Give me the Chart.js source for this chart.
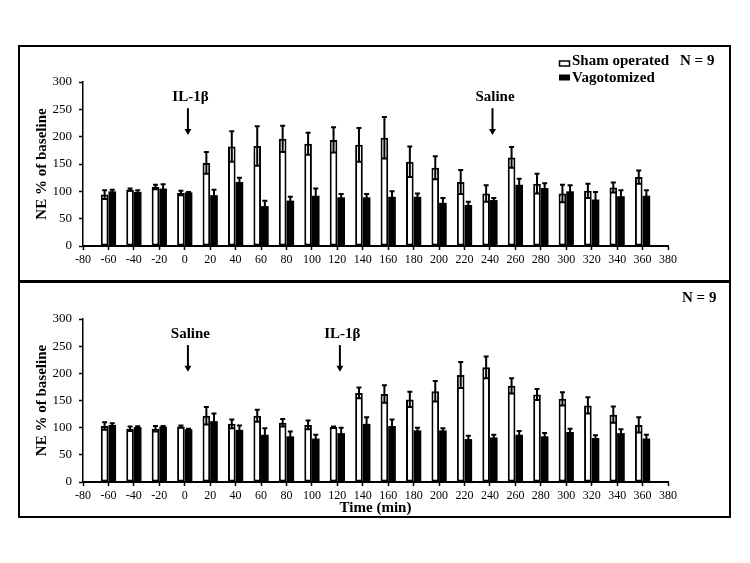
<!DOCTYPE html>
<html>
<head>
<meta charset="utf-8">
<script src="https://cdn.jsdelivr.net/npm/chart.js@4"></script>
<style>
  html, body { margin: 0; padding: 0; background: #fff; }
  body { width: 750px; height: 563px; position: relative; overflow: hidden; }
  #frame { position: absolute; left: 18px; top: 45px; width: 713px; height: 473px; border: 2px solid #000; box-sizing: border-box; }
  #sep { position: absolute; left: 18px; top: 280px; width: 713px; height: 3px; background: #000; }
  canvas { position: absolute; }
  #c1 { left: 20px; top: 47px; }
  #c2 { left: 20px; top: 284px; }
</style>
</head>
<body>
<div id="frame"></div>
<div id="sep"></div>
<canvas id="c1" width="709" height="233"></canvas>
<canvas id="c2" width="709" height="232"></canvas>
<script>
// ---- data ----
const times = [-60,-40,-20,0,20,40,60,80,100,120,140,160,180,200,220,240,260,280,300,320,340,360];
const yTicks = [0,50,100,150,200,250,300];

const topSham    = [94,103,108,97,152,182,183,196,187,194,185,198,154,143,117,96,162,114,96,101,107,126];
const topShamErr = [8,2,4,4,20,28,36,24,20,23,31,38,28,21,22,15,19,18,16,13,9,12];
const topVago    = [100,99,105,98,93,117,73,83,92,89,89,90,90,79,75,84,112,106,100,85,91,92];
const topVagoErr = [3,3,8,1,10,8,10,7,13,6,6,10,6,9,6,4,11,9,11,14,11,10];

const botSham    = [103,98,98,102,122,107,122,109,105,101,164,162,152,167,197,211,177,161,153,141,124,105];
const botShamErr = [7,4,5,2,16,8,11,7,8,1,10,16,14,19,24,20,14,10,12,15,15,14];
const botVago    = [105,101,102,97,112,96,87,84,80,90,107,103,95,95,79,82,87,84,92,81,90,80];
const botVagoErr = [3,1.5,1,1,14,8,12,9,7,10,12,12,5,4,6,5,7,6,6,5,7,7];

const topMarkerLabels = ['IL-1β','Saline'];
const topMarkerTimes  = [2.5, 242];
const botMarkerLabels = ['Saline','IL-1β'];
const botMarkerTimes  = [2.5, 122];

const seriesNames = ['Sham operated','Vagotomized'];
const nLabel = 'N = 9';
const yTitle = 'NE % of baseline';
const xTitle = 'Time (min)';

// ---- setup ----
const FONT = "'Liberation Serif', 'Times New Roman', serif";
Chart.defaults.font.family = FONT;
Chart.defaults.color = '#000';

function makeChart(canvasId, sham, shamErr, vago, vagoErr, mLabels, mTimes, showLegend, showXTitle, nX, nY) {
  const errs = [shamErr, vagoErr];
  const errPlugin = {
    id: 'errbars_' + canvasId,
    afterDatasetsDraw(chart) {
      const ctx = chart.ctx, ys = chart.scales.y;
      ctx.save();
      ctx.strokeStyle = '#000';
      ctx.lineWidth = 2;
      errs.forEach((eArr, di) => {
        const meta = chart.getDatasetMeta(di);
        const ds = chart.data.datasets[di].data;
        meta.data.forEach((bar, i) => {
          const v = ds[i].y, e = eArr[i];
          const yt = ys.getPixelForValue(v + e), yb = ys.getPixelForValue(v - e);
          ctx.beginPath();
          ctx.moveTo(bar.x, yt); ctx.lineTo(bar.x, yb);
          ctx.moveTo(bar.x - 2.5, yt); ctx.lineTo(bar.x + 2.5, yt);
          ctx.moveTo(bar.x - 2.5, yb); ctx.lineTo(bar.x + 2.5, yb);
          ctx.stroke();
        });
      });
      ctx.restore();
    }
  };
  const annoPlugin = {
    id: 'anno_' + canvasId,
    afterDraw(chart) {
      const ctx = chart.ctx, xs = chart.scales.x, ys = chart.scales.y;
      ctx.save();
      ctx.fillStyle = '#000';
      ctx.strokeStyle = '#000';
      ctx.font = "bold 15px " + FONT;
      mLabels.forEach((lab, i) => {
        const x = xs.getPixelForValue(mTimes[i]);
        ctx.textAlign = 'center';
        ctx.textBaseline = 'middle';
        ctx.fillText(lab, x + 2.5, ys.getPixelForValue(273));
        const y1 = ys.getPixelForValue(252), y2 = ys.getPixelForValue(203);
        ctx.lineWidth = 2;
        ctx.beginPath(); ctx.moveTo(x, y1); ctx.lineTo(x, y2 - 5); ctx.stroke();
        ctx.beginPath(); ctx.moveTo(x - 3.5, y2 - 6); ctx.lineTo(x + 3.5, y2 - 6); ctx.lineTo(x, y2); ctx.closePath(); ctx.fill();
      });
      ctx.textAlign = 'left';
      ctx.textBaseline = 'alphabetic';
      ctx.fillText(nLabel, nX, nY);
      if (showLegend) {
        ctx.fillStyle = '#fff';
        ctx.fillRect(539.5, 14, 10, 5);
        ctx.lineWidth = 1.5;
        ctx.strokeRect(539.5, 14, 10, 5);
        ctx.fillStyle = '#000';
        ctx.fillRect(539, 27.5, 11, 6);
        ctx.fillText(seriesNames[0], 552, 18);
        ctx.fillText(seriesNames[1], 552, 34.5);
      }
      ctx.restore();
    }
  };

  return new Chart(document.getElementById(canvasId), {
    type: 'bar',
    data: {
      datasets: [
        { label: seriesNames[0], data: times.map((t, i) => ({x: t, y: sham[i]})),
          backgroundColor: '#fff', borderColor: '#000', borderWidth: 2, borderSkipped: false,
          categoryPercentage: 0.6, barPercentage: 1.0 },
        { label: seriesNames[1], data: times.map((t, i) => ({x: t, y: vago[i]})),
          backgroundColor: '#000', borderColor: '#000', borderWidth: 0,
          categoryPercentage: 0.6, barPercentage: 1.0 }
      ]
    },
    options: {
      responsive: false,
      animation: false,
      devicePixelRatio: 1,
      layout: { padding: { top: 35, right: 61, bottom: 0, left: 0 } },
      plugins: { legend: { display: false }, tooltip: { enabled: false } },
      scales: {
        x: {
          type: 'linear', min: -80, max: 380, offset: false,
          afterBuildTicks: s => { s.ticks = [-80].concat(times, [380]).map(v => ({value: v})); },
          afterFit: s => { s.height = 34; },
          ticks: { font: { size: 12 }, padding: 3, maxRotation: 0, autoSkip: false, color: '#000' },
          grid: { display: true, drawOnChartArea: false, drawTicks: true, tickLength: 4, tickWidth: 1.5, tickColor: '#000', offset: false },
          border: { display: true, color: '#000', width: 2 },
          title: { display: showXTitle, text: xTitle, font: { size: 15, weight: 'bold', lineHeight: 1 }, padding: { top: 0, bottom: 0 }, color: '#000' }
        },
        y: {
          min: 0, max: 300,
          afterBuildTicks: s => { s.ticks = yTicks.map(v => ({value: v})); },
          afterFit: s => { s.width = 63; },
          ticks: { font: { size: 13 }, padding: 7, color: '#000' },
          grid: { display: true, drawOnChartArea: false, drawTicks: true, tickLength: 4, tickWidth: 1.5, tickColor: '#000' },
          border: { display: true, color: '#000', width: 1.5 },
          title: { display: true, text: yTitle, font: { size: 15, weight: 'bold' }, padding: { top: 13, bottom: 0 }, color: '#000' }
        }
      }
    },
    plugins: [errPlugin, annoPlugin]
  });
}

makeChart('c1', topSham, topShamErr, topVago, topVagoErr, topMarkerLabels, topMarkerTimes, true, false, 660, 18);
makeChart('c2', botSham, botShamErr, botVago, botVagoErr, botMarkerLabels, botMarkerTimes, false, true, 662, 17.7);
</script>
</body>
</html>
